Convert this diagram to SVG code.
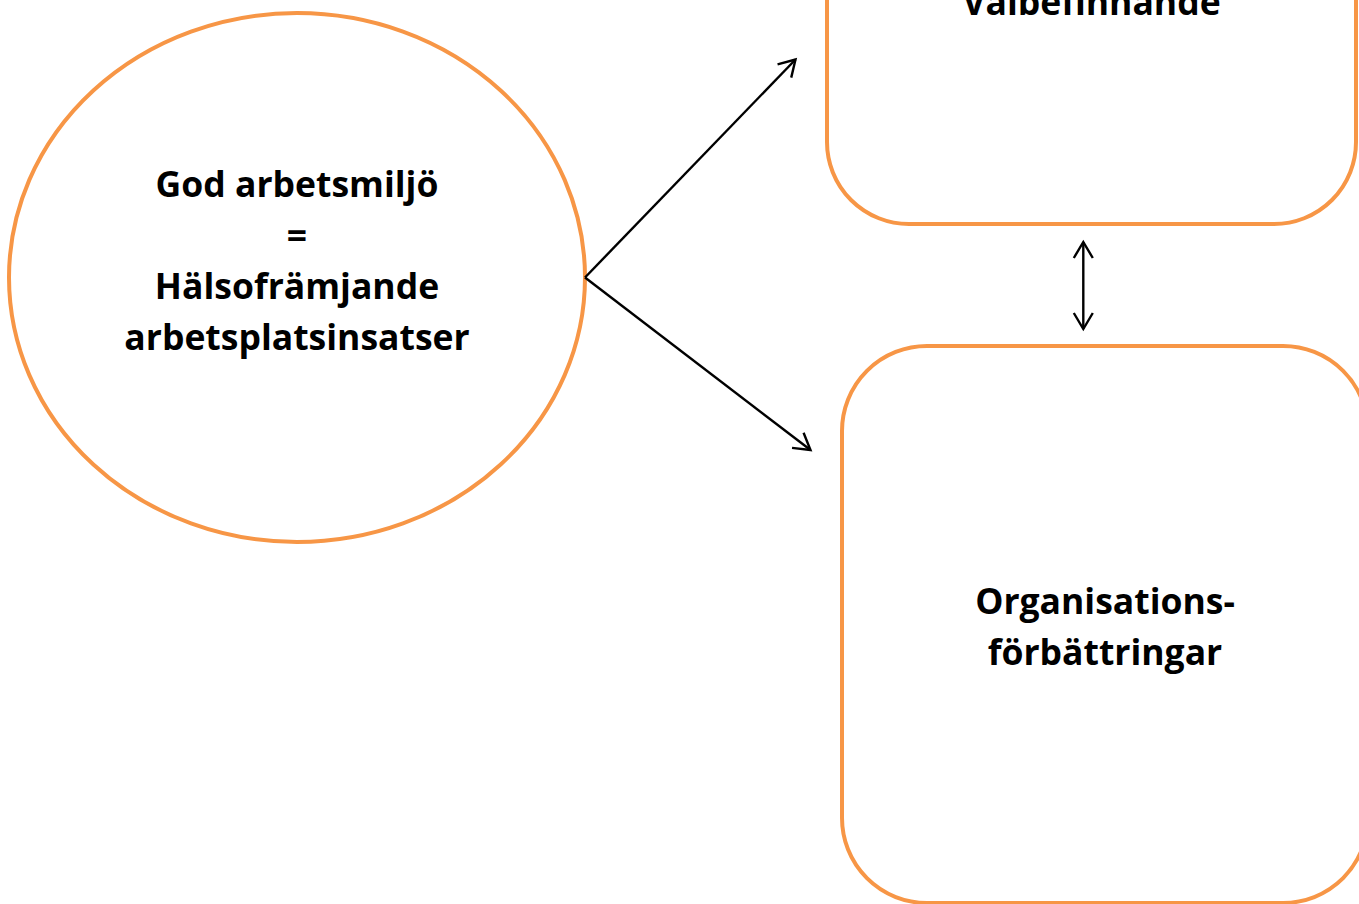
<svg xmlns="http://www.w3.org/2000/svg" width="1359" height="904" viewBox="0 0 1359 904">
<style>
.shape{fill:#fff;stroke:#F79646;stroke-width:4}
.lbl{font-family:"Open Sans","Liberation Sans",sans-serif;font-weight:700;font-size:35.5px;fill:#000;text-anchor:middle}
.conn{stroke:#000;stroke-width:2.4;fill:none}
</style>
<defs>
<marker id="arr" markerUnits="userSpaceOnUse" markerWidth="30" markerHeight="30" viewBox="-20 -15 30 30" refX="0" refY="0" orient="auto-start-reverse">
<path d="M -16 -9.5 L 0 0 L -16 9.5" fill="none" stroke="#000" stroke-width="2.4"/>
</marker>
</defs>
<rect width="1359" height="904" fill="#fff"/>
<g id="node-god-arbetsmiljo">
<ellipse class="shape" cx="297" cy="277.5" rx="288" ry="264.5"/>
<text class="lbl" x="297" y="197">God arbetsmiljö</text>
<text class="lbl" x="297" y="248">=</text>
<text class="lbl" x="297" y="299">Hälsofrämjande</text>
<text class="lbl" x="297" y="350">arbetsplatsinsatser</text>
</g>
<g id="node-valbefinnande">
<rect class="shape" x="827" y="-300" width="529" height="524" rx="82" ry="82"/>
<text class="lbl" x="1091.5" y="15">Välbefinnande</text>
</g>
<g id="node-organisationsforbattringar">
<rect class="shape" x="842" y="346" width="526" height="557" rx="85" ry="85"/>
<text class="lbl" x="1105" y="614">Organisations-</text>
<text class="lbl" x="1105" y="665">förbättringar</text>
</g>
<g id="connectors">
<line class="conn" x1="585" y1="277.5" x2="795.5" y2="59.5" marker-end="url(#arr)"/>
<line class="conn" x1="585" y1="277.5" x2="810.5" y2="450" marker-end="url(#arr)"/>
<line class="conn" x1="1083.3" y1="242" x2="1083.3" y2="329" marker-start="url(#arr)" marker-end="url(#arr)"/>
</g>
</svg>
